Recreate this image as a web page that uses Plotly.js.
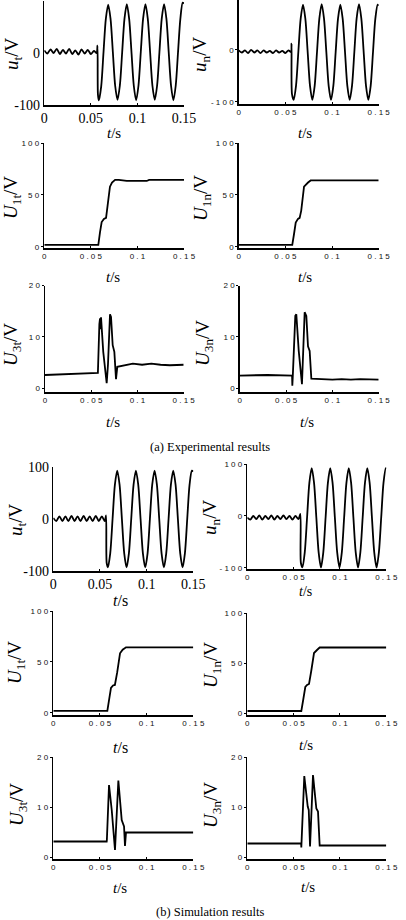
<!DOCTYPE html>
<html>
<head>
<meta charset="utf-8">
<script src="https://cdn.plot.ly/plotly-3.0.1.min.js"></script>
<style>html,body{margin:0;padding:0;background:#fff;}#chart{width:406px;height:920px;}</style>
</head>
<body>
<div id="chart"></div>
<script>
// ---------------- DATA ----------------
const xTicks = [0, 0.05, 0.1, 0.15];
const xTickSerif = ['0', '0.05', '0.1', '0.15'];
const xTickSans = ['0', '0 . 0 5', '0 . 1', '0 . 1 5'];
const uTicks = [-100, 0, 100];
const uTickSerif = ['-100', '0', '100'];
const uTickSans = ['- 1 0 0', '0', '1 0 0'];
const u1Ticks = [0, 50, 100];
const u1TickSans = ['0', '5 0', '1 0 0'];
const u3Ticks = [0, 10, 20];
const u3TickSans = ['0', '1 0', '2 0'];

// (a) experimental u_t
const tA_ut = [0,0.0033,0.0067,0.01,0.0133,0.0167,0.02,0.0233,0.0267,0.03,0.0333,0.0367,0.04,0.0433,0.0467,0.05,0.0533,0.0562,0.0571,0.0576,
  0.0586,0.0611,0.0636,0.0661,0.0686,0.0711,0.0736,0.0761,0.0786,0.0811,0.0836,0.0861,0.0886,0.0911,0.0936,0.0961,0.0986,0.1011,0.1036,0.1061,0.1086,0.1111,0.1136,0.1161,0.1186,0.1211,0.1236,0.1261,0.1286,0.1311,0.1336,0.1361,0.1386,0.1411,0.1436,0.1461,0.1486,0.15];
const vA_ut = [5,-1,7,0,8,-2,6,-1,8,-2,5,-3,7,-1,6,-2,4,0,14,-80,
  -91,-64,2,66,93,66,2,-63,-90,-63,1,66,94,66,2,-63,-91,-63,2,66,94,66,2,-63,-90,-63,1,66,94,66,1,-63,-91,-63,2,66,97,95];

// (a) experimental u_n
const tA_un = [0,0.0033,0.0067,0.01,0.0133,0.0167,0.02,0.0233,0.0267,0.03,0.0333,0.0367,0.04,0.0433,0.0467,0.05,0.0533,0.056,0.0566,0.0571,
  0.0589,0.0614,0.0639,0.0664,0.0689,0.0714,0.0739,0.0764,0.0789,0.0814,0.0839,0.0864,0.0889,0.0914,0.0939,0.0964,0.0989,0.1014,0.1039,0.1064,0.1089,0.1114,0.1139,0.1164,0.1189,0.1214,0.1239,0.1264,0.1289,0.1314,0.1339,0.1364,0.1389,0.1414,0.1439,0.1464,0.1489,0.15];
const vA_un = [-1,-5,-1,-6,0,-5,-1,-6,-1,-5,-2,-6,-1,-5,-2,-6,-1,-4,12,-85,
  -96,-69,-4,60,87,60,-4,-69,-96,-69,-4,60,88,60,-4,-69,-96,-69,-4,60,87,60,-4,-69,-96,-69,-4,61,88,60,-4,-69,-96,-69,-4,60,87,85];

// (a) experimental U_1t, U_1n
const tA_U1t = [0,0.0572,0.058,0.0598,0.0616,0.064,0.0663,0.068,0.0705,0.0727,0.076,0.08,0.0885,0.1,0.11,0.1125,0.15];
const vA_U1t = [2,2,2,14,24,27,28,40,58,62,64.5,64.5,63.5,63.5,63.5,64.5,64.5];
const tA_U1n = [0,0.0566,0.0574,0.0592,0.0611,0.0635,0.0653,0.067,0.07,0.0743,0.0771,0.15];
const vA_U1n = [2,2,2,12,23.5,27,28,35,58,62,64,64];

// (a) experimental U_3t, U_3n
const tA_U3t = [0,0.02,0.04,0.0568,0.0572,0.0588,0.0595,0.06,0.0606,0.063,0.0649,0.0667,0.0681,0.0703,0.0714,0.0732,0.075,0.0768,0.0782,0.085,0.095,0.105,0.115,0.125,0.135,0.15];
const vA_U3t = [2.6,2.7,2.9,3.0,3.0,12.5,13.6,11.5,13.8,7.1,3.3,1.0,4.6,14.4,13.9,8.4,7.1,1.8,4.2,4.5,4.8,4.6,4.8,4.6,4.5,4.6];
const tA_U3n = [0,0.03,0.0565,0.0568,0.0572,0.06,0.0611,0.0637,0.0672,0.0701,0.0719,0.0737,0.0755,0.0773,0.085,0.1,0.11,0.12,0.13,0.14,0.15];
const vA_U3n = [2.5,2.6,2.5,0.5,2.0,14.1,14.4,7.3,0.8,14.8,14.1,8.2,7.3,1.9,1.8,1.7,1.8,1.7,1.8,1.7,1.7];

// (b) simulation u_t
const tB_ut = [0,0.0032,0.0065,0.0097,0.013,0.0162,0.0195,0.0227,0.026,0.0292,0.0325,0.0357,0.039,0.0422,0.0455,0.0487,0.052,0.0552,0.0565,0.0572,
  0.0585,0.061,0.0635,0.066,0.0685,0.071,0.0735,0.076,0.0785,0.081,0.0835,0.086,0.0885,0.091,0.0935,0.096,0.0985,0.101,0.1035,0.106,0.1085,0.111,0.1135,0.116,0.1185,0.121,0.1235,0.126,0.1285,0.131,0.1335,0.136,0.1385,0.141,0.1435,0.146,0.1485,0.15];
const vB_ut = [2,-4,5,-4,5,-4,6,-4,5,-4,6,-4,5,-4,6,-4,5,-4,7,-85,
  -93,-66,0,66,93,66,0,-66,-93,-66,0,66,93,66,0,-66,-93,-66,0,66,93,66,0,-66,-93,-66,0,66,93,66,0,-66,-93,-66,0,66,93,91];

// (b) simulation u_n
const tB_un = [0,0.0032,0.0065,0.0097,0.013,0.0162,0.0195,0.0227,0.026,0.0292,0.0325,0.0357,0.039,0.0422,0.0455,0.0487,0.052,0.0552,0.0572,0.0578,
  0.0595,0.062,0.0645,0.067,0.0695,0.072,0.0745,0.077,0.0795,0.082,0.0845,0.087,0.0895,0.092,0.0945,0.097,0.0995,0.102,0.1045,0.107,0.1095,0.112,0.1145,0.117,0.1195,0.122,0.1245,0.127,0.1295,0.132,0.1345,0.137,0.1395,0.142,0.1445,0.147,0.1495,0.15];
const vB_un = [-3,-7,0,-6,1,-7,0,-6,1,-7,0,-6,1,-6,0,-7,0,-6,4,-90,
  -99,-70,-3,64,92,64,-3,-70,-99,-70,-3,64,92,64,-3,-70,-99,-70,-3,64,92,64,-3,-70,-99,-70,-3,64,92,64,-3,-70,-99,-70,-3,64,92,91];

// (b) simulation U_1t, U_1n
const tB_U1t = [0,0.057,0.0579,0.0598,0.0618,0.064,0.066,0.0685,0.0715,0.0743,0.0779,0.15];
const vB_U1t = [2,2,2,13,24.5,27,27.5,40,58.5,62,64.4,64.4];
const tB_U1n = [0,0.0575,0.0583,0.0603,0.0626,0.0645,0.0666,0.069,0.072,0.0752,0.0781,0.15];
const vB_U1n = [2,2,2,13,26,28,29,42,60,63,65.5,65.5];

// (b) simulation U_3t, U_3n
const tB_U3t = [0,0.0572,0.0574,0.0597,0.0626,0.0643,0.0661,0.0697,0.0733,0.0758,0.0768,0.0779,0.15];
const vB_U3t = [3.1,3.1,3.4,14.4,9.4,5.4,1.4,15.3,7.4,6.1,2.2,4.9,4.9];
const tB_U3n = [0,0.0581,0.0583,0.0615,0.0652,0.0663,0.0677,0.0709,0.0745,0.0763,0.0781,0.15];
const vB_U3n = [2.7,2.7,1.9,16.2,10.1,9.4,2.1,16.4,9.7,9.1,2.3,2.3];

// ---------------- LAYOUT ----------------
const W = 406, H = 920;
const SERIF = 'Liberation Serif, Times New Roman, serif';
const SANS = 'Liberation Sans, Arial, sans-serif';

const panels = [
  {t:tA_ut, v:vA_ut, spline:true, px:[44.3,184], py:[1,105], yr:[-100,100], serif:true, yv:uTicks, yt:uTickSerif,
   ytitle:'<i>u</i><sub>t</sub>/V', yx:13, yy:54, xx:114, xy:133, xf:15},
  {t:tA_un, v:vA_un, spline:true, px:[238.7,378.7], py:[0,104], yr:[-104,96], serif:false, yv:uTicks, yt:uTickSans,
   ytitle:'<i>u</i><sub>n</sub>/V', yx:201, yy:55, xx:305, xy:133, xf:15},
  {t:tA_U1t, v:vA_U1t, px:[44.3,184], py:[143,248], yr:[-1,100], serif:false, yv:u1Ticks, yt:u1TickSans,
   ytitle:'<i>U</i><sub>1t</sub>/V', yx:12, yy:198, xx:113, xy:277, xf:15},
  {t:tA_U1n, v:vA_U1n, px:[238.7,378.7], py:[143,248], yr:[-1,100], serif:false, yv:u1Ticks, yt:u1TickSans,
   ytitle:'<i>U</i><sub>1n</sub>/V', yx:202, yy:198, xx:305, xy:277, xf:15},
  {t:tA_U3t, v:vA_U3t, px:[45,183.7], py:[285.5,392], yr:[-0.7,20], serif:false, yv:u3Ticks, yt:u3TickSans,
   ytitle:'<i>U</i><sub>3t</sub>/V', yx:12, yy:345, xx:113, xy:422, xf:15},
  {t:tA_U3n, v:vA_U3n, px:[239.7,378.7], py:[285.5,392], yr:[-0.7,20], serif:false, yv:u3Ticks, yt:u3TickSans,
   ytitle:'<i>U</i><sub>3n</sub>/V', yx:204, yy:343, xx:307, xy:422, xf:15},
  {t:tB_ut, v:vB_ut, spline:true, px:[53.3,193.3], py:[467,571], yr:[-100,100], serif:true, yv:uTicks, yt:uTickSerif,
   ytitle:'<i>u</i><sub>t</sub>/V', yx:17, yy:520, xx:120, xy:600, xf:16},
  {t:tB_un, v:vB_un, spline:true, px:[247.3,386.3], py:[464,569], yr:[-102,100], serif:false, yv:uTicks, yt:uTickSans,
   ytitle:'<i>u</i><sub>n</sub>/V', yx:211, yy:518, xx:305, xy:591, xf:14},
  {t:tB_U1t, v:vB_U1t, px:[53.3,193.3], py:[611,715], yr:[-2,100], serif:false, yv:u1Ticks, yt:u1TickSans,
   ytitle:'<i>U</i><sub>1t</sub>/V', yx:16, yy:663, xx:120, xy:747, xf:16},
  {t:tB_U1n, v:vB_U1n, px:[247.3,386.3], py:[613,715], yr:[-2,100], serif:false, yv:u1Ticks, yt:u1TickSans,
   ytitle:'<i>U</i><sub>1n</sub>/V', yx:212, yy:665, xx:306, xy:745, xf:15},
  {t:tB_U3t, v:vB_U3t, px:[53.3,193.3], py:[757,859], yr:[-0.4,20], serif:false, yv:u3Ticks, yt:u3TickSans,
   ytitle:'<i>U</i><sub>3t</sub>/V', yx:18, yy:805, xx:120, xy:888, xf:15},
  {t:tB_U3n, v:vB_U3n, px:[247.3,386.3], py:[757,859], yr:[-0.4,20], serif:false, yv:u3Ticks, yt:u3TickSans,
   ytitle:'<i>U</i><sub>3n</sub>/V', yx:212, yy:805, xx:308, xy:887, xf:15}
];

const traces = [];
const layout = {
  width: W, height: H,
  margin: {l:0, r:0, t:0, b:0},
  paper_bgcolor: '#fff', plot_bgcolor: '#fff',
  showlegend: false,
  annotations: []
};

panels.forEach((p, k) => {
  const i = k + 1;
  const s = i === 1 ? '' : String(i);
  traces.push({
    x: p.t, y: p.v, type: 'scatter', mode: 'lines',
    xaxis: 'x' + s, yaxis: 'y' + s,
    line: {color: '#000', width: 1.8, shape: p.spline ? 'spline' : 'linear', smoothing: 0.8},
    hoverinfo: 'skip'
  });
  const tf = p.serif ? {family: SERIF, size: 14, color: '#000'} : {family: SANS, size: 8, color: '#111'};
  layout['xaxis' + s] = {
    domain: [p.px[0] / W, p.px[1] / W], range: [0, 0.15], anchor: 'y' + s,
    showline: true, linecolor: '#000', linewidth: 1.5, showgrid: false, zeroline: false,
    ticks: 'inside', ticklen: 2, tickwidth: 1, tickcolor: '#000',
    tickmode: 'array', tickvals: xTicks, ticktext: p.serif ? xTickSerif : xTickSans,
    tickfont: tf, fixedrange: true
  };
  layout['yaxis' + s] = {
    domain: [1 - p.py[1] / H, 1 - p.py[0] / H], range: p.yr, anchor: 'x' + s,
    showline: true, linecolor: '#000', linewidth: 1.5, showgrid: false, zeroline: false,
    ticks: p.serif ? '' : 'outside', ticklen: 2, tickwidth: 1, tickcolor: '#000',
    tickmode: 'array', tickvals: p.yv, ticktext: p.yt,
    tickfont: tf, fixedrange: true
  };
  layout.annotations.push({
    xref: 'paper', yref: 'paper', x: p.yx / W, y: 1 - p.yy / H,
    xanchor: 'center', yanchor: 'middle', textangle: -90, showarrow: false,
    text: p.ytitle, font: {family: SERIF, size: 19, color: '#000'}
  });
  layout.annotations.push({
    xref: 'paper', yref: 'paper', x: p.xx / W, y: 1 - p.xy / H,
    xanchor: 'center', yanchor: 'middle', showarrow: false,
    text: '<i>t</i>/s', font: {family: SERIF, size: p.xf, color: '#000'}
  });
});

layout.annotations.push({
  xref: 'paper', yref: 'paper', x: 210 / W, y: 1 - 447 / H, xanchor: 'center', yanchor: 'middle',
  showarrow: false, text: '(a) Experimental results', font: {family: SERIF, size: 12.5, color: '#000'}
});
layout.annotations.push({
  xref: 'paper', yref: 'paper', x: 210 / W, y: 1 - 912 / H, xanchor: 'center', yanchor: 'middle',
  showarrow: false, text: '(b) Simulation results', font: {family: SERIF, size: 12.5, color: '#000'}
});

Plotly.newPlot('chart', traces, layout, {staticPlot: true, displayModeBar: false});
</script>
</body>
</html>
